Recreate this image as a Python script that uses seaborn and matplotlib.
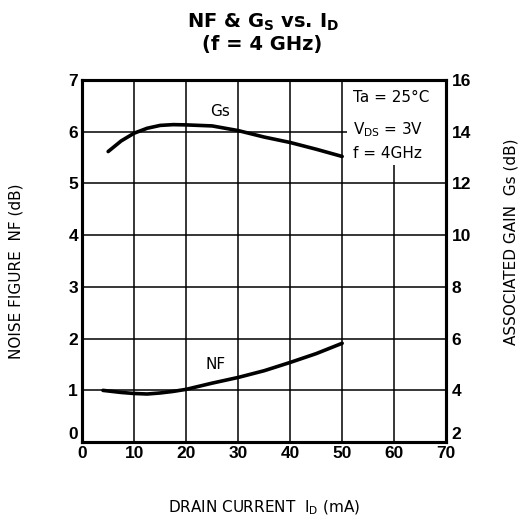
import matplotlib
matplotlib.use("Agg")
import matplotlib.pyplot as plt
import seaborn as sns
import pandas as pd
from matplotlib.patches import Rectangle

# drain current (mA)
id_nf = [4, 7.5, 10, 12.5, 15, 17.5, 20, 25, 30, 35, 40, 45, 50]
# noise figure (dB)
nf_db = [1.00, 0.96, 0.94, 0.93, 0.95, 0.98, 1.02, 1.14, 1.25, 1.38, 1.54, 1.71, 1.91]
# drain current (mA) for gain
id_gs = [5, 7.5, 10, 12.5, 15, 17.5, 20, 25, 30, 35, 40, 45, 50]
# associated gain (dB)
gs_db = [13.23, 13.64, 13.94, 14.13, 14.24, 14.27, 14.26, 14.22, 14.04, 13.79, 13.58, 13.32, 13.04]

x_ticks = [0, 10, 20, 30, 40, 50, 60, 70]
nf_ticks = [0, 1, 2, 3, 4, 5, 6, 7]
gs_ticks = [2, 4, 6, 8, 10, 12, 14, 16]

df_nf = pd.DataFrame({'ID': id_nf, 'NF': nf_db})
df_gs = pd.DataFrame({'ID': id_gs, 'Gs': gs_db})

sns.set_theme(style="white", rc={'text.color': 'black', 'axes.labelcolor': 'black',
                                  'xtick.color': 'black', 'ytick.color': 'black'})
plt.rcParams['font.family'] = ['DejaVu Sans']
plt.rcParams['mathtext.default'] = 'regular'

fig = plt.figure(figsize=(5.2, 5.22), dpi=100)
ax = fig.add_axes([0.158, 0.153, 0.700, 0.694])
ax2 = ax.twinx()

sns.lineplot(data=df_nf, x='ID', y='NF', ax=ax, color='black', linewidth=2.6, zorder=5)
sns.lineplot(data=df_gs, x='ID', y='Gs', ax=ax2, color='black', linewidth=2.6, zorder=5)

ax.set_xlim(0, 70)
ax.set_ylim(0, 7)
ax2.set_ylim(2, 16)
ax.set_xticks(x_ticks)
ax.set_yticks(nf_ticks)
ax2.set_yticks(gs_ticks)
tick_font = dict(fontsize=12.5, fontweight='bold', family='Liberation Sans')
ax.set_xticklabels(x_ticks, **tick_font)
ax.set_yticklabels(nf_ticks, **tick_font)
ax2.set_yticklabels(gs_ticks, **tick_font)
ax.tick_params(axis='x', length=0, pad=3)
ax.tick_params(axis='y', length=0, pad=3)
ax2.tick_params(length=0, pad=4)
ax.get_yticklabels()[0].set_va('bottom')
ax2.get_yticklabels()[0].set_va('bottom')

ax.grid(True, color='black', linewidth=1.1)
ax.set_axisbelow(True)
for a in (ax, ax2):
    for s in a.spines.values():
        s.set_color('black')
        s.set_linewidth(2.2)

# white box behind the conditions text
ax.add_patch(Rectangle((51, 5.35), 19, 1.65, facecolor='white', edgecolor='none', zorder=2))
ax.text(52.1, 6.65, "Ta = 25°C", fontsize=11, va='center', zorder=6)
ax.text(52.1, 6.03, "V$_{DS}$ = 3V", fontsize=11, va='center', zorder=6)
ax.text(52.1, 5.58, "f = 4GHz", fontsize=11, va='center', zorder=6)

ax.text(26.5, 6.38, "Gs", fontsize=11, ha='center', va='center')
ax.text(25.6, 1.5, "NF", fontsize=11, ha='center', va='center')

ax.set_xlabel("DRAIN CURRENT  I$_D$ (mA)", fontsize=11)
ax.set_ylabel("NOISE FIGURE  NF (dB)", fontsize=11)
ax2.set_ylabel("ASSOCIATED GAIN  Gs (dB)", fontsize=11)
ax.xaxis.set_label_coords(0.5, -0.155)
ax.yaxis.set_label_coords(-0.162, 0.472)
ax2.yaxis.set_label_coords(1.157, 0.552)

fig.text(0.505, 0.957, "NF & G$_S$ vs. I$_D$", fontsize=14, fontweight='bold', ha='center', va='center')
fig.text(0.505, 0.914, "(f = 4 GHz)", fontsize=14, fontweight='bold', ha='center', va='center')

fig.savefig("out.png", dpi=100)
